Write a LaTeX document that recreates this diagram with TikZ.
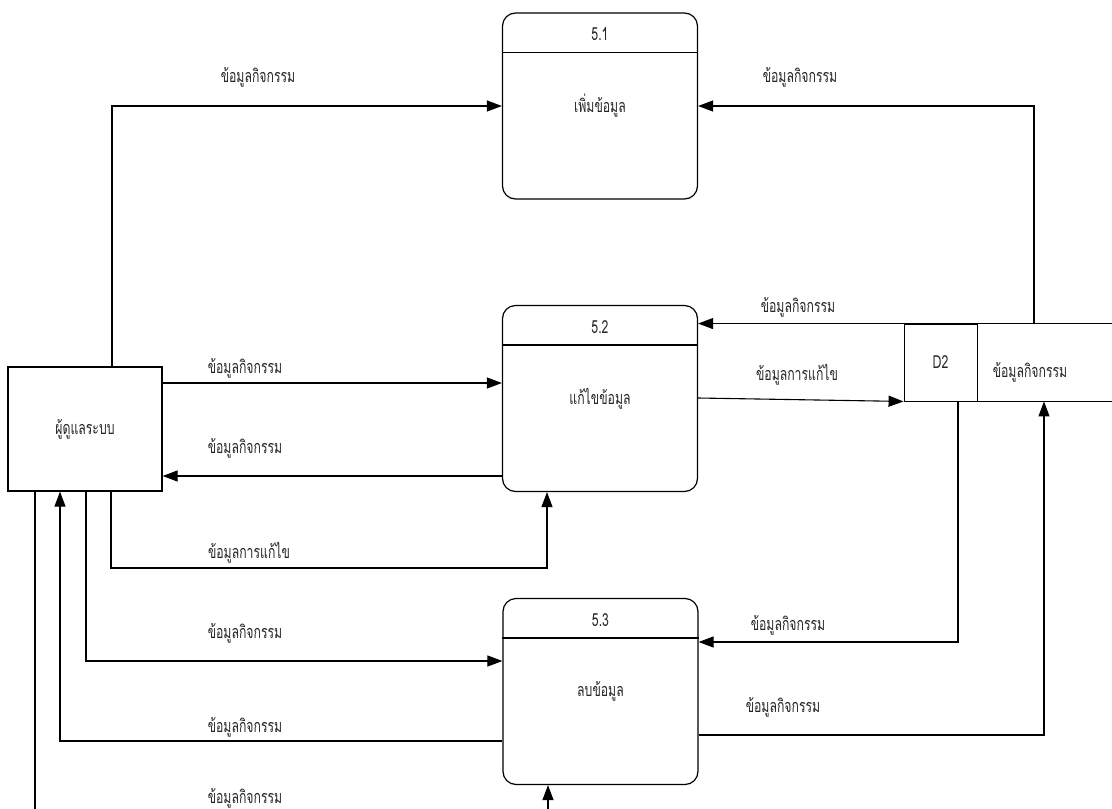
\documentclass[tikz,border=0pt]{standalone}
\usepackage{fontspec}
\newfontfamily\thai[Script=Thai,FakeStretch=0.68]{Loma}
\usetikzlibrary{arrows.meta}
\begin{document}
\begin{tikzpicture}[x=1pt,y=-1pt,
  every node/.style={font=\thai\fontsize{18}{20}\selectfont, text=black!85, inner sep=0pt},
  proc/.style={draw, line width=1.2pt, rounded corners=13pt, minimum width=195pt, minimum height=186pt},
  entity/.style={draw, line width=1.2pt, minimum width=154pt, minimum height=124pt},
  idcell/.style={draw, line width=0.9pt, minimum width=73pt, minimum height=77pt},
  flow/.style={line width=1.1pt, -{Triangle[length=15pt,width=11pt]}},
  edge/.style={line width=1.6pt}
]
\useasboundingbox (0,0) rectangle (1112,809);
\clip (0,0) rectangle (1112,809);

% external entity
\node[entity] (ent) at (85,429) {ผู้ดูแลระบบ};

% processes
\node[proc] (p1) at (600,106) {เพิ่มข้อมูล};
\node[proc] (p2) at (600,398.5) {แก้ไขข้อมูล};
\node[proc] (p3) at (600.5,691.5) {ลบข้อมูล};
\foreach \p/\n in {p1/5.1,p2/5.2,p3/5.3}{
  \draw[line width=1.2pt] ([yshift=-40pt]\p.north west) -- ([yshift=-40pt]\p.north east);
  \node (\p id) at ([yshift=-22pt]\p.north) {\n};
}

% data store D2
\node[idcell] (d2) at (940.5,362.5) {D2};
\draw[edge] (d2.north west) -- (1120,0 |- d2.north);
\draw[edge] (d2.south west) -- (1120,0 |- d2.south);
\node (d2name) at (1030,372) {ข้อมูลกิจกรรม};

% flows between entity and processes
\draw[flow] (112,0 |- ent.north) |- (p1.west);
\draw[flow] (ent.east |- 0,383) -- (p2.west |- 0,383);
\draw[flow] (p2.west |- 0,476) -- (ent.east |- 0,476);
\draw[flow] (111,0 |- ent.south) -- (111,568) -- (547,568) -- (547,0 |- p2.south);
\draw[flow] (86,0 |- ent.south) |- (p3.west |- 0,661);
\draw[flow] (p3.west |- 0,741) -| (60,0 |- ent.south);
\draw[flow] (35,0 |- ent.south) -- (35,830) -- (548,830) -- (548,0 |- p3.south);

% flows between processes and data store
\draw[flow] (1034,0 |- d2.north) |- (p1.east);
\draw[flow] (d2.north west) -- (p2.east |- d2.north);
\draw[flow] (p2.east |- 0,398) -- (d2.south west);
\draw[flow] (958,0 |- d2.south) |- (p3.east |- 0,642);
\draw[flow] (p3.east |- 0,735) -| (1044,0 |- d2.south);

% flow labels
\node (l1) at (258,77) {ข้อมูลกิจกรรม};
\node (l2) at (800,77) {ข้อมูลกิจกรรม};
\node (l3) at (245,368) {ข้อมูลกิจกรรม};
\node (l4) at (245,448) {ข้อมูลกิจกรรม};
\node (l5) at (249,553) {ข้อมูลการแก้ไข};
\node (l6) at (245,633) {ข้อมูลกิจกรรม};
\node (l7) at (245,727) {ข้อมูลกิจกรรม};
\node (l8) at (245,798) {ข้อมูลกิจกรรม};
\node (l9) at (798,307) {ข้อมูลกิจกรรม};
\node (l10) at (797,375) {ข้อมูลการแก้ไข};
\node (l11) at (788,625) {ข้อมูลกิจกรรม};
\node (l12) at (783,707) {ข้อมูลกิจกรรม};
\end{tikzpicture}
\end{document}
